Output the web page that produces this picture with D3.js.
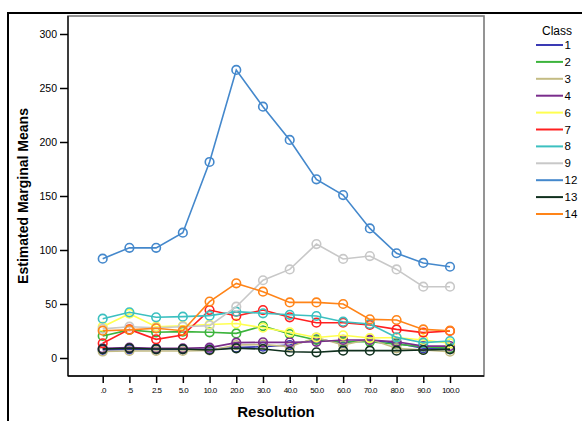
<!DOCTYPE html>
<html><head><meta charset="utf-8">
<script src="https://cdn.jsdelivr.net/npm/d3@7/dist/d3.min.js"></script>
<style>body{margin:0;background:#fff;}svg{display:block;font-family:Arial,"Liberation Sans",sans-serif;}</style>
</head><body>
<svg id="c" width="582" height="421"></svg>
<script>
const categories = [".0",".5","2.5","5.0","10.0","20.0","30.0","40.0","50.0","60.0","70.0","80.0","90.0","100.0"];
const classes = ["1","2","3","4","6","7","8","9","12","13","14"];
const colors = ["#3a3ab4","#3cb43c","#c4bc84","#7a2d8c","#ffff50","#ff2020","#3cc0c0","#c8c8c8","#4488cc","#10301e","#ff8418"];
const yTicks = [0,50,100,150,200,250,300];
const s1  = [7.5,8,8,8,8,9.6,10.5,12,17.3,14.2,16.7,13.6,9,9];
const s2  = [20.4,26,23.8,24.4,23.8,22.8,29.6,22.2,16.7,15.1,15,12.7,10.5,9];
const s3  = [6,6.5,6.5,6.5,7,12,12.5,10.5,19,12,17.3,9,7.4,5.8];
const s4  = [9,9.6,9,9,9.6,14.2,14.5,14.5,15,16.7,16.7,15,11,11];
const s6  = [29,41,29,29.8,31,32,28,23.8,19,21,18.5,19,16.7,13.6];
const s7  = [13.6,26.5,17.3,21.3,44.4,38.9,44.4,37.7,32.7,32.7,30.6,26.5,23.5,25];
const s8  = [36.4,42.3,37.7,38.3,39.2,42.9,41.4,40,38.9,33.6,31.5,19.1,14.2,15.7];
const s9  = [27,29,28,29,30,47.5,72,82,105.5,91.7,94.4,82,66,66];
const s12 = [92,102,102,116,181.5,266.7,232.7,201.9,165.4,150.9,120,97,88,84.5];
const s13 = [8.3,9,8.3,8.3,7.4,9,8.3,5.8,5.3,6.8,6.8,6.8,7.4,8];
const s14 = [25.3,26,27.5,25.3,52.2,69.1,61.4,51.5,51.5,50,35.8,35.2,26.5,25.3];
const series = [s1,s2,s3,s4,s6,s7,s8,s9,s12,s13,s14];

const svg = d3.select("#c");
const L=68, T=16, R=484, B=376;
const x = d3.scalePoint().domain(categories).range([102.7,450]);
const y = d3.scaleLinear().domain([0,300]).range([358,34]);

// outer frame
svg.append("rect").attr("x",8).attr("y",13).attr("width",600).attr("height",420)
  .attr("fill","none").attr("stroke","#000").attr("stroke-width",2);
// plot box
svg.append("rect").attr("x",L).attr("y",T).attr("width",R-L).attr("height",B-T)
  .attr("fill","#fff").attr("stroke","#7a7a7a").attr("stroke-width",1.6);
svg.append("line").attr("x1",L).attr("x2",L).attr("y1",T).attr("y2",B).attr("stroke","#000").attr("stroke-width",1.2);
svg.append("line").attr("x1",L).attr("x2",R).attr("y1",B).attr("y2",B).attr("stroke","#000").attr("stroke-width",1.5);

// y axis
const ya = svg.append("g").attr("transform",`translate(${L},0)`)
  .call(d3.axisLeft(y).tickValues(yTicks).tickSize(8).tickPadding(3).tickFormat(d3.format("d")));
ya.select(".domain").remove();
ya.selectAll("line").attr("stroke","#000").attr("stroke-width",1.5);
ya.selectAll("text").attr("font-size","10.5px").attr("fill","#000").attr("font-family","Arial");

// x axis
const xa = svg.append("g").attr("transform",`translate(0,${B})`)
  .call(d3.axisBottom(x).tickSize(7).tickPadding(4));
xa.select(".domain").remove();
xa.selectAll("line").attr("stroke","#000").attr("stroke-width",1.5);
xa.selectAll("text").attr("font-size","8px").attr("fill","#000").attr("letter-spacing","-0.6px").attr("font-family","Arial");

// titles
svg.append("text").attr("x",276).attr("y",417).attr("text-anchor","middle")
  .attr("font-size","15px").attr("font-weight","bold").text("Resolution");
svg.append("text").attr("transform","translate(28,196) rotate(-90)").attr("text-anchor","middle")
  .attr("font-size","14px").attr("font-weight","bold").text("Estimated Marginal Means");

// lines
const line = d3.line().x((d,i)=>x(categories[i])).y(d=>y(d));
series.forEach((s,k)=>{
  const g = svg.append("g");
  g.append("path").datum(s).attr("d",line).attr("fill","none")
    .attr("stroke",colors[k]).attr("stroke-width",1.6);
  g.selectAll("circle").data(s).join("circle")
    .attr("cx",(d,i)=>x(categories[i])).attr("cy",d=>y(d)).attr("r",4.3)
    .attr("fill","none").attr("stroke",colors[k]).attr("stroke-width",1.6);
});

// legend
const lg = svg.append("g");
lg.append("text").attr("x",557).attr("y",35).attr("text-anchor","middle").attr("font-size","12px").text("Class");
classes.forEach((c,k)=>{
  const yy = 45 + k*16.9;
  lg.append("line").attr("x1",536).attr("x2",563).attr("y1",yy).attr("y2",yy)
    .attr("stroke",colors[k]).attr("stroke-width",2);
  lg.append("text").attr("x",564.5).attr("y",yy+4).attr("font-size","11.5px").text(c);
});
</script>
</body></html>
